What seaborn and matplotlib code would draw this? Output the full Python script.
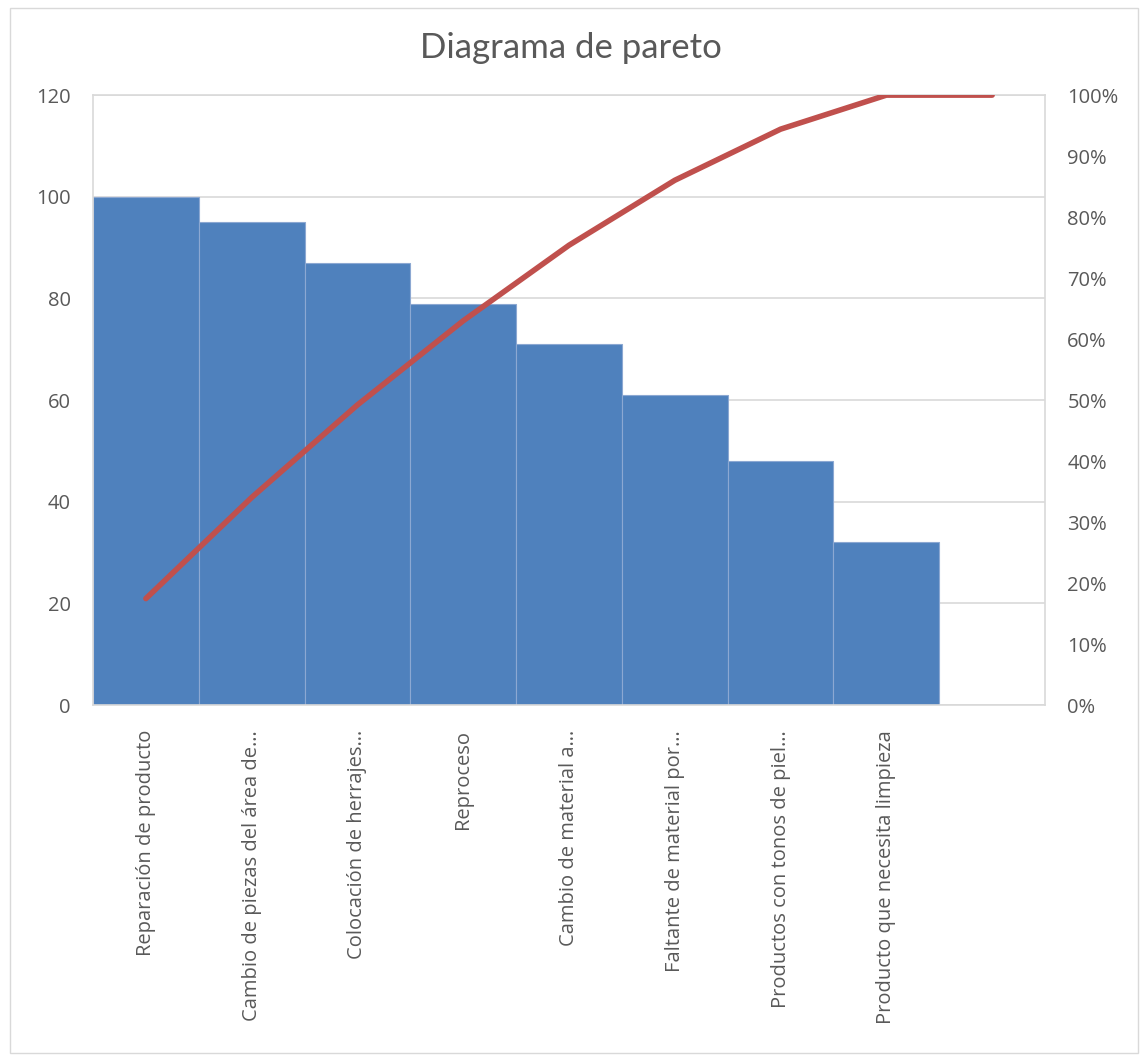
import matplotlib
matplotlib.use("Agg")
import matplotlib.pyplot as plt
import numpy as np
import pandas as pd
import seaborn as sns
from matplotlib.ticker import FuncFormatter, MultipleLocator

# data
categorias = ["Reparación de producto", "Cambio de piezas del área de…",
              "Colocación de herrajes…", "Reproceso", "Cambio de material a…",
              "Faltante de material por…", "Productos con tonos de piel…",
              "Producto que necesita limpieza", ""]
frecuencia = [100, 95, 87, 79, 71, 61, 48, 32, 0]
acumulado = [0.1745, 0.3403, 0.4921, 0.6300, 0.7539, 0.8604, 0.9442, 1.0, 1.0]

sns.set_theme(style="white")
plt.rcParams["font.family"] = ["Open Sans", "DejaVu Sans"]

GRIS = "#595959"
df = pd.DataFrame({"cat": categorias, "n": frecuencia})

fig = plt.figure(figsize=(11.41, 10.57), dpi=100)
ax = fig.add_axes([0.0815, 0.333, 0.8344, 0.577])

sns.barplot(data=df, x="cat", y="n", color="#4F81BD", saturation=1,
            width=1.0, edgecolor="#8CA8D2", linewidth=0.8, ax=ax, zorder=2)
ax.set_xlim(-0.5, 8.5)
ax.set_ylim(0, 120)
ax.yaxis.set_major_locator(MultipleLocator(20))
ax.grid(axis="y", color="#D9D9D9", linewidth=1.2, zorder=0)
ax.set_axisbelow(True)
for s in ax.spines.values():
    s.set_color("#D9D9D9")
    s.set_linewidth(1.2)
ax.set_xlabel("")
ax.set_ylabel("")
ax.tick_params(axis="y", labelsize=14.5, colors=GRIS, length=0, pad=16)
ax.tick_params(axis="x", labelsize=14.5, colors=GRIS, length=0, pad=18)
plt.setp(ax.get_xticklabels(), rotation=90, va="top", ha="center")

ax2 = ax.twinx()
sns.lineplot(x=np.arange(len(acumulado)), y=acumulado, color="#C0504D",
             linewidth=4.0, ax=ax2, solid_capstyle="round")
ax2.set_ylim(0, 1.0)
ax2.yaxis.set_major_locator(MultipleLocator(0.1))
ax2.yaxis.set_major_formatter(FuncFormatter(lambda v, p: f"{v*100:.0f}%"))
ax2.tick_params(axis="y", labelsize=14.5, colors=GRIS, length=0, pad=16)
for s in ax2.spines.values():
    s.set_visible(False)
ax2.set_ylabel("")

fig.text(0.5, 0.955, "Diagrama de pareto", ha="center", va="center",
         fontsize=25, color=GRIS, family=["Lato", "DejaVu Sans"])

fig.patches.append(plt.Rectangle((0.009, 0.004), 0.988, 0.988, transform=fig.transFigure,
                                 fill=False, edgecolor="#D9D9D9", linewidth=1))

fig.savefig("out.png", dpi=100)
